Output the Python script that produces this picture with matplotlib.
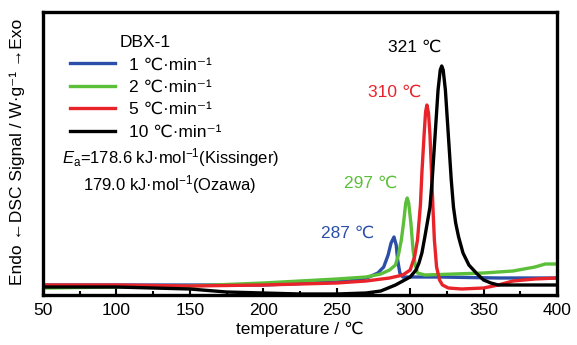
import numpy as np
import matplotlib
matplotlib.use("Agg")
import matplotlib.pyplot as plt
from matplotlib.ticker import MultipleLocator

# font: narrow Arial-like, fall back to DejaVu for the special signs
plt.rcParams['font.family'] = ['Liberation Sans Narrow', 'Liberation Sans', 'DejaVu Sans']
plt.rcParams['mathtext.fontset'] = 'custom'
plt.rcParams['mathtext.rm'] = 'Liberation Sans'
plt.rcParams['mathtext.it'] = 'Liberation Sans:italic'

# DSC curves (signal in arbitrary units)
t_1 = [50, 100, 150, 200, 250, 265, 272, 278, 282, 285, 287, 289, 290.5, 291.5, 293, 295, 320, 360, 400]
s_1 = [10, 10, 10, 10, 13, 15, 18, 22, 28, 40, 52, 58, 50, 35, 22, 18, 18, 17, 17]

t_2 = [50, 100, 150, 200, 225, 250, 270, 280, 286, 290, 292, 294, 295.5, 297, 298, 299, 300.5, 302, 303.5,
       305, 310, 330, 350, 370, 385, 392, 400]
s_2 = [7, 8, 9, 12, 14, 16, 18, 21, 25, 30, 40, 55, 72, 92, 97, 92, 72, 45, 30,
       22, 20, 21, 22, 24, 28, 31, 31]

t_5 = [50, 100, 150, 200, 250, 270, 286, 295, 300, 303, 305, 307, 308, 309.5, 310.5, 311.4, 312.5, 313.5,
       314.5, 315.5, 316.5, 318, 320, 322, 326, 335, 350, 360, 370, 385, 400]
s_5 = [10, 10, 9, 10, 12, 14, 17, 20, 25, 38, 55, 90, 122, 160, 183, 190, 182, 160,
       125, 88, 55, 28, 15, 10, 7, 6, 7, 10, 14, 16, 17]

t_10 = [50, 100, 150, 175, 200, 225, 250, 270, 280, 290, 295, 300, 304, 306, 308, 310, 312, 313.5, 315,
        317, 319, 320.5, 321.5, 322.5, 324, 326, 328, 329.5, 331, 333, 336, 340, 345, 350, 355, 360, 400]
s_10 = [8, 8, 6, 3, 2, 1, 1, 2, 4, 10, 14, 18, 25, 32, 42, 58, 75, 88, 115,
        160, 205, 225, 229, 225, 205, 160, 115, 88, 72, 58, 42, 30, 22, 15, 12, 10, 10]

labels = ['1 ℃·min⁻¹', '2 ℃·min⁻¹', '5 ℃·min⁻¹', '10 ℃·min⁻¹']
colors = ['#2b4fa8', '#5cbf3a', '#e8232a', '#000000']
peak_text = ['287 ℃', '297 ℃', '310 ℃', '321 ℃']
# where the peak labels sit (temperature, signal)
peak_x = [257.6, 273, 289.6, 303]
peak_y = [62, 112, 203, 248]

fig = plt.figure(figsize=(5.77, 3.45), dpi=100)
ax = fig.add_axes([43/577, 50/345, 514/577, 283/345])

series = [(t_1, s_1), (t_2, s_2), (t_5, s_5), (t_10, s_10)]
for (t, s), lab, c in zip(series, labels, colors):
    ax.plot(t, s, color=c, lw=2.4, label=lab)

for txt, x, y, c in zip(peak_text, peak_x, peak_y, colors):
    ax.text(x, y, txt, color=c, fontsize=12.5, ha='center', va='center')

ax.set_xlim(50, 400)
ax.set_ylim(0, 283)
ax.xaxis.set_major_locator(MultipleLocator(50))
ax.xaxis.set_minor_locator(MultipleLocator(25))
ax.tick_params(axis='x', which='both', direction='in', top=False, labelsize=12.5, pad=6)
ax.tick_params(axis='x', which='major', length=5, width=1.5)
ax.tick_params(axis='x', which='minor', length=3, width=1.5)
ax.set_yticks([])
for sp in ax.spines.values():
    sp.set_linewidth(2.4)

ax.set_xlabel('temperature / ℃', fontsize=12.5, labelpad=2)
fig.text(17/577, 1 - 152/345, 'Endo ←DSC Signal / W·g⁻¹ →Exo', rotation=90,
         fontsize=12.5, ha='center', va='center')

leg = ax.legend(loc='upper left', bbox_to_anchor=(0.028, 0.962), frameon=False, title='DBX-1',
                fontsize=12.5, title_fontsize=12.5, handlelength=2.6, handletextpad=0.8,
                labelspacing=0.42, borderpad=0.2)

ax.text(0.037, 0.485, r'$E_{\rm a}$=178.6 kJ·mol$^{-1}$(Kissinger)', transform=ax.transAxes,
        fontsize=12, va='center', ha='left')
ax.text(0.077, 0.39, r'179.0 kJ·mol$^{-1}$(Ozawa)', transform=ax.transAxes,
        fontsize=12, va='center', ha='left')

fig.savefig('out.png', dpi=100)
